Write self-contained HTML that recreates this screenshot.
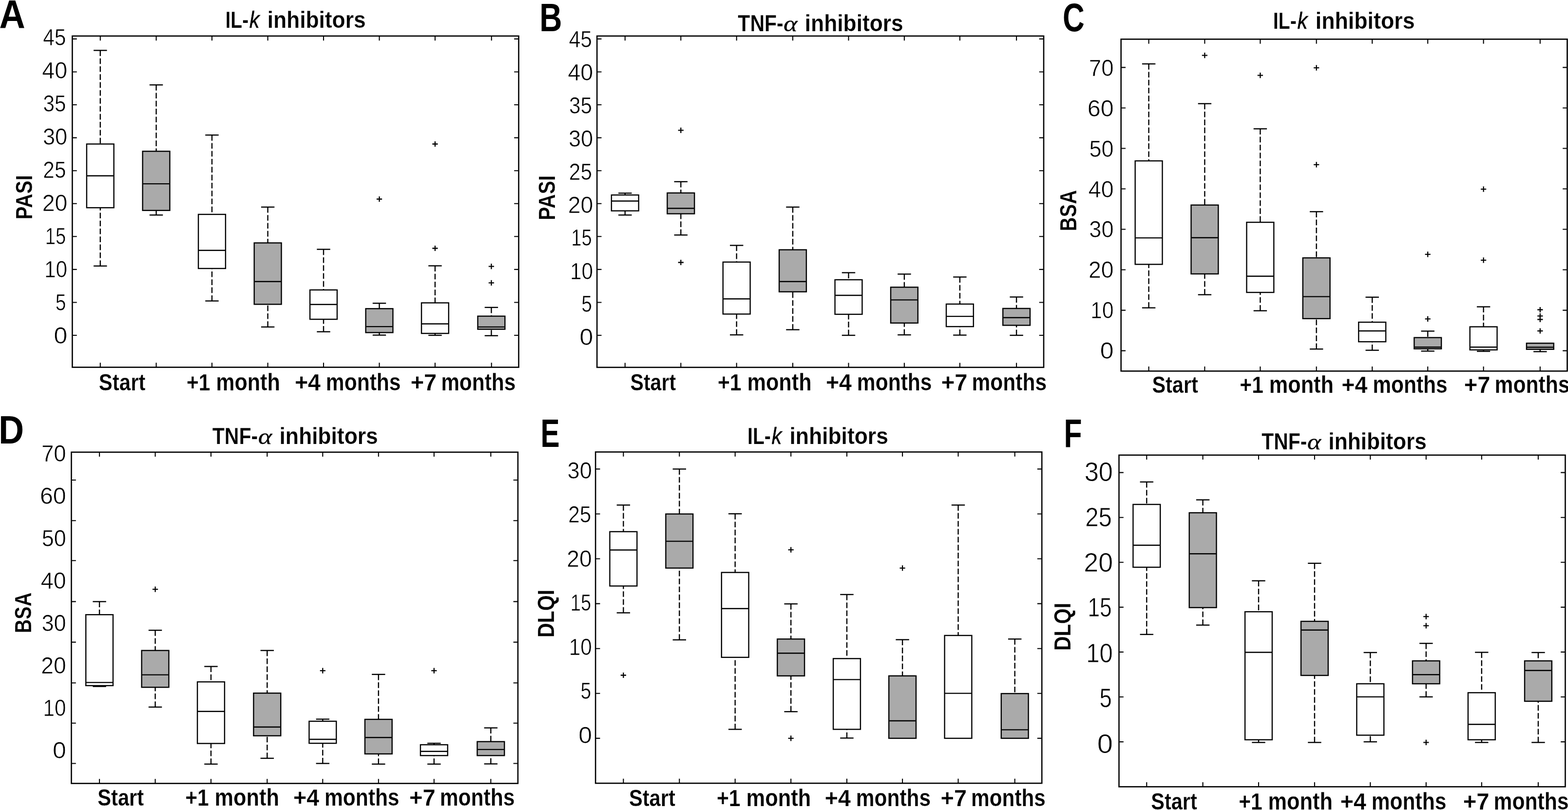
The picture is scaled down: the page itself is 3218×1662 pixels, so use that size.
<!DOCTYPE html>
<html lang="en">
<head>
<meta charset="utf-8">
<title>Box plots: PASI, BSA and DLQI for IL-k and TNF-α inhibitors</title>
<style>
html,body{margin:0;padding:0;background:#fff;}
body{width:3218px;height:1662px;overflow:hidden;}
svg{display:block;}
text{font-family:"Liberation Sans",sans-serif;fill:#000;}
.tk{font-size:47.9px;font-weight:400;stroke:#fff;stroke-width:0.65px;}
.lb{font-size:48.5px;font-weight:700;stroke:#fff;stroke-width:0.25px;}
.xl{font-size:49.8px;font-weight:700;stroke:#fff;stroke-width:0.25px;}
.xd{font-size:48px;font-weight:700;stroke:#fff;stroke-width:0.25px;}
.xs{font-size:49px;font-weight:700;stroke:#fff;stroke-width:0.25px;}
.lt{font-size:82.4px;font-weight:700;}
.k,.lbk{font-style:italic;font-weight:400;stroke:#000;stroke-width:0.5px;}
.lbk{font-size:48.5px;}
.al,.lba{font-family:"Liberation Serif","DejaVu Serif",serif;font-weight:400;font-style:italic;stroke:#000;stroke-width:0.3px;font-size:45.5px;}
.fr{fill:none;stroke:#000;stroke-width:2.6;}
.t{stroke:#000;stroke-width:2.1;fill:none;}
.bw{fill:#fff;stroke:#000;stroke-width:2.4;}
.bg{fill:#aaa;stroke:#000;stroke-width:2.4;}
.l{stroke:#000;stroke-width:2.4;fill:none;}
.d{stroke:#000;stroke-width:2.4;fill:none;stroke-dasharray:11.6 4.7;}
.o{stroke:#000;stroke-width:2.3;fill:none;}
</style>
</head>
<body>
<svg width="3218" height="1662" viewBox="0 0 3218 1662">
<rect x="0" y="0" width="3218" height="1662" fill="#fff"/>
<g id="panelA">
<path class="d" d="M205.8 103.4V295.5"/>
<path class="l" d="M192.1 103.4H219.5"/>
<path class="d" d="M205.8 545.8V426.2"/>
<path class="l" d="M192.1 545.8H219.5"/>
<rect class="bw" x="177.9" y="295.5" width="55.8" height="130.7"/>
<path class="l" d="M177.9 360.8H233.7"/>
<path class="d" d="M320.6 174.2V310.4"/>
<path class="l" d="M306.9 174.2H334.3"/>
<path class="d" d="M320.6 441.2V431.8"/>
<path class="l" d="M306.9 441.2H334.3"/>
<rect class="bg" x="292.7" y="310.4" width="55.8" height="121.4"/>
<path class="l" d="M292.7 377.1H348.5"/>
<path class="d" d="M435 277.1V439.9"/>
<path class="l" d="M421.3 277.1H448.7"/>
<path class="d" d="M435 617.5V550.9"/>
<path class="l" d="M421.3 617.5H448.7"/>
<rect class="bw" x="407.1" y="439.9" width="55.8" height="111"/>
<path class="l" d="M407.1 513.8H462.9"/>
<path class="d" d="M549.6 424.9V498.4"/>
<path class="l" d="M535.9 424.9H563.3"/>
<path class="d" d="M549.6 670.9V624.4"/>
<path class="l" d="M535.9 670.9H563.3"/>
<rect class="bg" x="521.7" y="498.4" width="55.8" height="126"/>
<path class="l" d="M521.7 577.8H577.5"/>
<path class="d" d="M664 511.6V594.9"/>
<path class="l" d="M650.3 511.6H677.7"/>
<path class="d" d="M664 680.7V655.1"/>
<path class="l" d="M650.3 680.7H677.7"/>
<rect class="bw" x="636.1" y="594.9" width="55.8" height="60.2"/>
<path class="l" d="M636.1 624.8H691.9"/>
<path class="d" d="M778.5 622.2V633.3"/>
<path class="l" d="M764.8 622.2H792.2"/>
<path class="d" d="M778.5 687.6V682.4"/>
<path class="l" d="M764.8 687.6H792.2"/>
<rect class="bg" x="750.6" y="633.3" width="55.8" height="49.1"/>
<path class="l" d="M750.6 670.1H806.4"/>
<path class="o" d="M772.9 408.5H784.1M778.5 402.9V414.1"/>
<path class="d" d="M892.9 545.4V621.4"/>
<path class="l" d="M879.2 545.4H906.6"/>
<path class="d" d="M892.9 688V684.1"/>
<path class="l" d="M879.2 688H906.6"/>
<rect class="bw" x="865" y="621.4" width="55.8" height="62.7"/>
<path class="l" d="M865 664.5H920.8"/>
<path class="o" d="M887.3 295.5H898.5M892.9 289.9V301.1"/>
<path class="o" d="M887.3 509.5H898.5M892.9 503.9V515.1"/>
<path class="d" d="M1008.4 630.8V648.7"/>
<path class="l" d="M994.7 630.8H1022.1"/>
<path class="d" d="M1008.4 688.8V675.6"/>
<path class="l" d="M994.7 688.8H1022.1"/>
<rect class="bg" x="980.5" y="648.7" width="55.8" height="26.9"/>
<path class="l" d="M980.5 670.9H1036.3"/>
<path class="o" d="M1002.8 546.6H1014M1008.4 541V552.2"/>
<path class="o" d="M1002.8 580.4H1014M1008.4 574.8V586"/>
<path class="t" d="M205.8 73.9V83.2M205.8 753.6V744.3M320.6 73.9V83.2M320.6 753.6V744.3M435 73.9V83.2M435 753.6V744.3M549.6 73.9V83.2M549.6 753.6V744.3M664 73.9V83.2M664 753.6V744.3M778.5 73.9V83.2M778.5 753.6V744.3M892.9 73.9V83.2M892.9 753.6V744.3M1008.7 73.9V83.2M1008.7 753.6V744.3M148.4 79.9H157.7M1064.5 79.9H1055.2M148.4 147.47H157.7M1064.5 147.47H1055.2M148.4 215.04H157.7M1064.5 215.04H1055.2M148.4 282.61H157.7M1064.5 282.61H1055.2M148.4 350.18H157.7M1064.5 350.18H1055.2M148.4 417.75H157.7M1064.5 417.75H1055.2M148.4 485.32H157.7M1064.5 485.32H1055.2M148.4 552.89H157.7M1064.5 552.89H1055.2M148.4 620.46H157.7M1064.5 620.46H1055.2M148.4 688.03H157.7M1064.5 688.03H1055.2"/>
<rect class="fr" x="148.4" y="73.9" width="916.1" height="679.7"/>
<text class="lt" transform="translate(-1.39,57.1) scale(0.8959,1.0000)">A</text>
<text class="lb" y="57.12" xml:space="preserve"><tspan x="462.48" textLength="47.74" lengthAdjust="spacingAndGlyphs">IL-</tspan><tspan class="k" x="511.87" textLength="20.79" lengthAdjust="spacingAndGlyphs">k</tspan><tspan x="536.37" textLength="214.21" lengthAdjust="spacingAndGlyphs"> inhibitors</tspan></text>
<text class="lb" transform="translate(66.32,450.62) rotate(-90) scale(0.8341,1.0000)">PASI</text>
<text class="xl" y="801.02" xml:space="preserve"><tspan class="xs" x="202.82" textLength="95.63" lengthAdjust="spacingAndGlyphs">Start</tspan></text>
<text class="xl" y="801.02" xml:space="preserve"><tspan class="xd" x="383.01" textLength="48.3" lengthAdjust="spacingAndGlyphs">+1</tspan><tspan x="431.17" textLength="143.6" lengthAdjust="spacingAndGlyphs"> month</tspan></text>
<text class="xl" y="801.02" xml:space="preserve"><tspan class="xd" x="604.92" textLength="53.05" lengthAdjust="spacingAndGlyphs">+4</tspan><tspan x="657.06" textLength="165.48" lengthAdjust="spacingAndGlyphs"> months</tspan></text>
<text class="xl" y="801.02" xml:space="preserve"><tspan class="xd" x="842.7" textLength="53.48" lengthAdjust="spacingAndGlyphs">+7</tspan><tspan x="893.42" textLength="164.82" lengthAdjust="spacingAndGlyphs"> months</tspan></text>
<text class="tk" transform="translate(88.17,93.25) scale(0.8889,1.0000)">45</text>
<text class="tk" transform="translate(86.34,161.41) scale(0.9737,1.0000)">40</text>
<text class="tk" transform="translate(88.52,229.32) scale(0.8821,1.0000)">35</text>
<text class="tk" transform="translate(87.88,297.23) scale(0.9436,1.0000)">30</text>
<text class="tk" transform="translate(88.37,365.14) scale(0.8850,1.0000)">25</text>
<text class="tk" transform="translate(86.64,433.05) scale(0.9679,1.0000)">20</text>
<text class="tk" transform="translate(92.81,500.71) scale(0.7979,1.0000)">15</text>
<text class="tk" transform="translate(90.97,568.87) scale(0.8830,1.0000)">10</text>
<text class="tk" transform="translate(113.65,636.53) scale(0.8184,1.0000)">5</text>
<text class="tk" transform="translate(110.45,704.69) scale(1.0427,1.0000)">0</text>
</g>
<g id="panelB">
<path class="d" d="M1282.8 396.3V400.1"/>
<path class="l" d="M1269.1 396.3H1296.5"/>
<path class="d" d="M1282.8 441.2V432.6"/>
<path class="l" d="M1269.1 441.2H1296.5"/>
<rect class="bw" x="1254.9" y="400.1" width="55.8" height="32.5"/>
<path class="l" d="M1254.9 412.5H1310.7"/>
<path class="d" d="M1397.3 372.8V395.9"/>
<path class="l" d="M1383.6 372.8H1411"/>
<path class="d" d="M1397.3 482.2V438.6"/>
<path class="l" d="M1383.6 482.2H1411"/>
<rect class="bg" x="1369.4" y="395.9" width="55.8" height="42.7"/>
<path class="l" d="M1369.4 427.5H1425.2"/>
<path class="o" d="M1391.7 267.3H1402.9M1397.3 261.7V272.9"/>
<path class="o" d="M1391.7 538.5H1402.9M1397.3 532.9V544.1"/>
<path class="d" d="M1511.7 503.5V537.7"/>
<path class="l" d="M1498 503.5H1525.4"/>
<path class="d" d="M1511.7 687.1V644.4"/>
<path class="l" d="M1498 687.1H1525.4"/>
<rect class="bw" x="1483.8" y="537.7" width="55.8" height="106.7"/>
<path class="l" d="M1483.8 613.3H1539.6"/>
<path class="d" d="M1627 424.9V512.5"/>
<path class="l" d="M1613.3 424.9H1640.7"/>
<path class="d" d="M1627 676.5V598.7"/>
<path class="l" d="M1613.3 676.5H1640.7"/>
<rect class="bg" x="1599.1" y="512.5" width="55.8" height="86.2"/>
<path class="l" d="M1599.1 577.8H1654.9"/>
<path class="d" d="M1741.5 559.5V574"/>
<path class="l" d="M1727.8 559.5H1755.2"/>
<path class="d" d="M1741.5 688V644.9"/>
<path class="l" d="M1727.8 688H1755.2"/>
<rect class="bw" x="1713.6" y="574" width="55.8" height="70.9"/>
<path class="l" d="M1713.6 606H1769.4"/>
<path class="d" d="M1855.9 562.4V589.3"/>
<path class="l" d="M1842.2 562.4H1869.6"/>
<path class="d" d="M1855.9 687.1V662.8"/>
<path class="l" d="M1842.2 687.1H1869.6"/>
<rect class="bg" x="1828" y="589.3" width="55.8" height="73.5"/>
<path class="l" d="M1828 615.4H1883.8"/>
<path class="d" d="M1969.9 568.4V623.9"/>
<path class="l" d="M1956.2 568.4H1983.6"/>
<path class="d" d="M1969.9 687.6V670.1"/>
<path class="l" d="M1956.2 687.6H1983.6"/>
<rect class="bw" x="1942" y="623.9" width="55.8" height="46.2"/>
<path class="l" d="M1942 649.1H1997.8"/>
<path class="d" d="M2086.1 609.4V632.9"/>
<path class="l" d="M2072.4 609.4H2099.8"/>
<path class="d" d="M2086.1 688V667.5"/>
<path class="l" d="M2072.4 688H2099.8"/>
<rect class="bg" x="2058.2" y="632.9" width="55.8" height="34.6"/>
<path class="l" d="M2058.2 651.7H2114"/>
<path class="t" d="M1282.8 73.9V83.2M1282.8 753.8V744.5M1397.3 73.9V83.2M1397.3 753.8V744.5M1511.7 73.9V83.2M1511.7 753.8V744.5M1627 73.9V83.2M1627 753.8V744.5M1741.5 73.9V83.2M1741.5 753.8V744.5M1855.9 73.9V83.2M1855.9 753.8V744.5M1969.9 73.9V83.2M1969.9 753.8V744.5M2086.1 73.9V83.2M2086.1 753.8V744.5M1225.2 79.9H1234.5M2142 79.9H2132.7M1225.2 147.47H1234.5M2142 147.47H2132.7M1225.2 215.04H1234.5M2142 215.04H2132.7M1225.2 282.61H1234.5M2142 282.61H2132.7M1225.2 350.18H1234.5M2142 350.18H2132.7M1225.2 417.75H1234.5M2142 417.75H2132.7M1225.2 485.32H1234.5M2142 485.32H2132.7M1225.2 552.89H1234.5M2142 552.89H2132.7M1225.2 620.46H1234.5M2142 620.46H2132.7M1225.2 688.03H1234.5M2142 688.03H2132.7"/>
<rect class="fr" x="1225.2" y="73.9" width="916.8" height="679.9"/>
<text class="lt" transform="translate(1107.23,63.9) scale(0.7761,1.0000)">B</text>
<text class="lb" y="63.82" xml:space="preserve"><tspan x="1514.37" textLength="93.28" lengthAdjust="spacingAndGlyphs">TNF-</tspan><tspan class="al" x="1608.11" textLength="28.47" lengthAdjust="spacingAndGlyphs">α</tspan><tspan x="1639.46" textLength="214.31" lengthAdjust="spacingAndGlyphs"> inhibitors</tspan></text>
<text class="lb" transform="translate(1138.52,451.84) rotate(-90) scale(0.8409,1.0000)">PASI</text>
<text class="xl" y="801.02" xml:space="preserve"><tspan class="xs" x="1293.54" textLength="93.59" lengthAdjust="spacingAndGlyphs">Start</tspan></text>
<text class="xl" y="801.02" xml:space="preserve"><tspan class="xd" x="1473.01" textLength="48.53" lengthAdjust="spacingAndGlyphs">+1</tspan><tspan x="1521.4" textLength="144.29" lengthAdjust="spacingAndGlyphs"> month</tspan></text>
<text class="xl" y="801.02" xml:space="preserve"><tspan class="xd" x="1694.92" textLength="53.03" lengthAdjust="spacingAndGlyphs">+4</tspan><tspan x="1747.04" textLength="165.41" lengthAdjust="spacingAndGlyphs"> months</tspan></text>
<text class="xl" y="801.02" xml:space="preserve"><tspan class="xd" x="1931.79" textLength="53.68" lengthAdjust="spacingAndGlyphs">+7</tspan><tspan x="1982.7" textLength="165.44" lengthAdjust="spacingAndGlyphs"> months</tspan></text>
<text class="tk" transform="translate(1167.67,96.95) scale(0.8889,1.0000)">45</text>
<text class="tk" transform="translate(1165.44,165.12) scale(0.9737,1.0000)">40</text>
<text class="tk" transform="translate(1168.02,233.04) scale(0.8821,1.0000)">35</text>
<text class="tk" transform="translate(1166.98,300.96) scale(0.9436,1.0000)">30</text>
<text class="tk" transform="translate(1167.87,368.88) scale(0.8850,1.0000)">25</text>
<text class="tk" transform="translate(1165.74,436.8) scale(0.9679,1.0000)">20</text>
<text class="tk" transform="translate(1172.31,504.47) scale(0.7979,1.0000)">15</text>
<text class="tk" transform="translate(1170.07,572.64) scale(0.8830,1.0000)">10</text>
<text class="tk" transform="translate(1193.15,640.31) scale(0.8184,1.0000)">5</text>
<text class="tk" transform="translate(1189.55,708.48) scale(1.0427,1.0000)">0</text>
</g>
<g id="panelC">
<path class="d" d="M2357.6 131.1V330.1"/>
<path class="l" d="M2343.9 131.1H2371.3"/>
<path class="d" d="M2357.6 631.6V542.4"/>
<path class="l" d="M2343.9 631.6H2371.3"/>
<rect class="bw" x="2329.7" y="330.1" width="55.8" height="212.3"/>
<path class="l" d="M2329.7 488.1H2385.5"/>
<path class="d" d="M2472.4 212.7V420.7"/>
<path class="l" d="M2458.7 212.7H2486.1"/>
<path class="d" d="M2472.4 604.7V562"/>
<path class="l" d="M2458.7 604.7H2486.1"/>
<rect class="bg" x="2444.5" y="420.7" width="55.8" height="141.3"/>
<path class="l" d="M2444.5 487.7H2500.3"/>
<path class="o" d="M2466.8 113.6H2478M2472.4 108V119.2"/>
<path class="d" d="M2586.4 264.3V456.1"/>
<path class="l" d="M2572.7 264.3H2600.1"/>
<path class="d" d="M2586.4 637.6V600"/>
<path class="l" d="M2572.7 637.6H2600.1"/>
<rect class="bw" x="2558.5" y="456.1" width="55.8" height="143.9"/>
<path class="l" d="M2558.5 566.7H2614.3"/>
<path class="o" d="M2580.8 154.6H2592M2586.4 149V160.2"/>
<path class="d" d="M2701.7 434.3V529.1"/>
<path class="l" d="M2688 434.3H2715.4"/>
<path class="d" d="M2701.7 716.2V653.8"/>
<path class="l" d="M2688 716.2H2715.4"/>
<rect class="bg" x="2673.8" y="529.1" width="55.8" height="124.7"/>
<path class="l" d="M2673.8 608.6H2729.6"/>
<path class="o" d="M2696.1 139.2H2707.3M2701.7 133.6V144.8"/>
<path class="o" d="M2696.1 337.8H2707.3M2701.7 332.2V343.4"/>
<path class="d" d="M2816.2 609.8V661.1"/>
<path class="l" d="M2802.5 609.8H2829.9"/>
<path class="d" d="M2816.2 718.7V701.2"/>
<path class="l" d="M2802.5 718.7H2829.9"/>
<rect class="bw" x="2788.3" y="661.1" width="55.8" height="40.1"/>
<path class="l" d="M2788.3 679H2844.1"/>
<path class="d" d="M2930.2 679.4V692.7"/>
<path class="l" d="M2916.5 679.4H2943.9"/>
<path class="d" d="M2930.2 720.4V715.7"/>
<path class="l" d="M2916.5 720.4H2943.9"/>
<rect class="bg" x="2902.3" y="692.7" width="55.8" height="23"/>
<path class="l" d="M2902.3 712.3H2958.1"/>
<path class="o" d="M2924.6 521.9H2935.8M2930.2 516.3V527.5"/>
<path class="o" d="M2924.6 654.3H2935.8M2930.2 648.7V659.9"/>
<path class="d" d="M3044.6 629.5V670.5"/>
<path class="l" d="M3030.9 629.5H3058.3"/>
<path class="d" d="M3044.6 720.9V717.9"/>
<path class="l" d="M3030.9 720.9H3058.3"/>
<rect class="bw" x="3016.7" y="670.5" width="55.8" height="47.4"/>
<path class="l" d="M3016.7 712.3H3072.5"/>
<path class="o" d="M3039 388.2H3050.2M3044.6 382.6V393.8"/>
<path class="o" d="M3039 533.8H3050.2M3044.6 528.2V539.4"/>
<path class="d" d="M3160.8 721.5V716.8"/>
<path class="l" d="M3147.1 721.5H3174.5"/>
<rect class="bg" x="3132.9" y="704.2" width="55.8" height="12.6"/>
<path class="l" d="M3132.9 712.5H3188.7"/>
<path class="o" d="M3155.2 635.5H3166.4M3160.8 629.9V641.1"/>
<path class="o" d="M3155.2 648.3H3166.4M3160.8 642.7V653.9"/>
<path class="o" d="M3155.2 655.5H3166.4M3160.8 649.9V661.1"/>
<path class="o" d="M3155.2 679H3166.4M3160.8 673.4V684.6"/>
<path class="t" d="M2357.6 80.4V89.7M2357.6 761.4V752.1M2472.4 80.4V89.7M2472.4 761.4V752.1M2586.4 80.4V89.7M2586.4 761.4V752.1M2701.7 80.4V89.7M2701.7 761.4V752.1M2816.2 80.4V89.7M2816.2 761.4V752.1M2930.2 80.4V89.7M2930.2 761.4V752.1M3044.6 80.4V89.7M3044.6 761.4V752.1M3160.8 80.4V89.7M3160.8 761.4V752.1M2300.7 138.4H2310M3216.4 138.4H3207.1M2300.7 221.43H2310M3216.4 221.43H3207.1M2300.7 304.46H2310M3216.4 304.46H3207.1M2300.7 387.49H2310M3216.4 387.49H3207.1M2300.7 470.52H2310M3216.4 470.52H3207.1M2300.7 553.55H2310M3216.4 553.55H3207.1M2300.7 636.58H2310M3216.4 636.58H3207.1M2300.7 719.61H2310M3216.4 719.61H3207.1"/>
<rect class="fr" x="2300.7" y="80.4" width="915.7" height="681"/>
<text class="lt" transform="translate(2181.07,63.9) scale(0.7516,1.0000)">C</text>
<text class="lb" y="59.02" xml:space="preserve"><tspan x="2612.65" textLength="48.22" lengthAdjust="spacingAndGlyphs">IL-</tspan><tspan class="k" x="2662.53" textLength="20.99" lengthAdjust="spacingAndGlyphs">k</tspan><tspan x="2687.27" textLength="216.32" lengthAdjust="spacingAndGlyphs"> inhibitors</tspan></text>
<text class="lb" transform="translate(2208.82,474.39) rotate(-90) scale(0.8247,1.0000)">BSA</text>
<text class="xl" y="805.62" xml:space="preserve"><tspan class="xs" x="2364.43" textLength="94.41" lengthAdjust="spacingAndGlyphs">Start</tspan></text>
<text class="xl" y="805.62" xml:space="preserve"><tspan class="xd" x="2544.31" textLength="48.53" lengthAdjust="spacingAndGlyphs">+1</tspan><tspan x="2592.7" textLength="144.29" lengthAdjust="spacingAndGlyphs"> month</tspan></text>
<text class="xl" y="805.62" xml:space="preserve"><tspan class="xd" x="2753.32" textLength="53" lengthAdjust="spacingAndGlyphs">+4</tspan><tspan x="2805.41" textLength="165.33" lengthAdjust="spacingAndGlyphs"> months</tspan></text>
<text class="xl" y="805.62" xml:space="preserve"><tspan class="xd" x="3004.79" textLength="53.73" lengthAdjust="spacingAndGlyphs">+7</tspan><tspan x="3055.75" textLength="165.6" lengthAdjust="spacingAndGlyphs"> months</tspan></text>
<text class="tk" transform="translate(2234.78,156.2) scale(0.9534,1.0000)">70</text>
<text class="tk" transform="translate(2231.82,239) scale(1.0114,1.0000)">60</text>
<text class="tk" transform="translate(2235.55,321.8) scale(0.9381,1.0000)">50</text>
<text class="tk" transform="translate(2233.74,404.6) scale(0.9737,1.0000)">40</text>
<text class="tk" transform="translate(2235.28,487.4) scale(0.9436,1.0000)">30</text>
<text class="tk" transform="translate(2234.04,570.2) scale(0.9679,1.0000)">20</text>
<text class="tk" transform="translate(2238.37,653) scale(0.8830,1.0000)">10</text>
<text class="tk" transform="translate(2257.85,735.8) scale(1.0427,1.0000)">0</text>
</g>
<g id="panelD">
<path class="d" d="M204.1 1234.4V1261.2"/>
<path class="l" d="M190.4 1234.4H217.8"/>
<path class="d" d="M204.1 1408.5V1406.8"/>
<path class="l" d="M190.4 1408.5H217.8"/>
<rect class="bw" x="176.2" y="1261.2" width="55.8" height="145.6"/>
<path class="l" d="M176.2 1400.4H232"/>
<path class="d" d="M318.6 1293.2V1334.7"/>
<path class="l" d="M304.9 1293.2H332.3"/>
<path class="d" d="M318.6 1450.8V1410.2"/>
<path class="l" d="M304.9 1450.8H332.3"/>
<rect class="bg" x="290.7" y="1334.7" width="55.8" height="75.5"/>
<path class="l" d="M290.7 1384.6H346.5"/>
<path class="o" d="M313 1209.2H324.2M318.6 1203.6V1214.8"/>
<path class="d" d="M433 1367.5V1399.1"/>
<path class="l" d="M419.3 1367.5H446.7"/>
<path class="d" d="M433 1567.8V1525.5"/>
<path class="l" d="M419.3 1567.8H446.7"/>
<rect class="bw" x="405.1" y="1399.1" width="55.8" height="126.4"/>
<path class="l" d="M405.1 1459.8H460.9"/>
<path class="d" d="M548.3 1334.7V1422.2"/>
<path class="l" d="M534.6 1334.7H562"/>
<path class="d" d="M548.3 1555.9V1509.7"/>
<path class="l" d="M534.6 1555.9H562"/>
<rect class="bg" x="520.4" y="1422.2" width="55.8" height="87.5"/>
<path class="l" d="M520.4 1491.8H576.2"/>
<path class="d" d="M662.3 1475.6V1479.9"/>
<path class="l" d="M648.6 1475.6H676"/>
<path class="d" d="M662.3 1566.5V1525.1"/>
<path class="l" d="M648.6 1566.5H676"/>
<rect class="bw" x="634.4" y="1479.9" width="55.8" height="45.2"/>
<path class="l" d="M634.4 1517H690.2"/>
<path class="o" d="M656.7 1376.1H667.9M662.3 1370.5V1381.7"/>
<path class="d" d="M776.8 1383.8V1476"/>
<path class="l" d="M763.1 1383.8H790.5"/>
<path class="d" d="M776.8 1567.8V1546.9"/>
<path class="l" d="M763.1 1567.8H790.5"/>
<rect class="bg" x="748.9" y="1476" width="55.8" height="70.9"/>
<path class="l" d="M748.9 1513.2H804.7"/>
<path class="d" d="M890.8 1525.1V1528.1"/>
<path class="l" d="M877.1 1525.1H904.5"/>
<path class="d" d="M890.8 1567.8V1550.3"/>
<path class="l" d="M877.1 1567.8H904.5"/>
<rect class="bw" x="862.9" y="1528.1" width="55.8" height="22.2"/>
<path class="l" d="M862.9 1541.8H918.7"/>
<path class="o" d="M885.2 1376.1H896.4M890.8 1370.5V1381.7"/>
<path class="d" d="M1007.3 1493.5V1521.7"/>
<path class="l" d="M993.6 1493.5H1021"/>
<path class="d" d="M1007.3 1567.4V1550.3"/>
<path class="l" d="M993.6 1567.4H1021"/>
<rect class="bg" x="979.4" y="1521.7" width="55.8" height="28.6"/>
<path class="l" d="M979.4 1537.9H1035.2"/>
<path class="t" d="M204.1 927.8V937.1M204.1 1607.5V1598.2M318.6 927.8V937.1M318.6 1607.5V1598.2M433 927.8V937.1M433 1607.5V1598.2M548.3 927.8V937.1M548.3 1607.5V1598.2M662.3 927.8V937.1M662.3 1607.5V1598.2M776.8 927.8V937.1M776.8 1607.5V1598.2M890.8 927.8V937.1M890.8 1607.5V1598.2M1007.3 927.8V937.1M1007.3 1607.5V1598.2M146.5 985H155.8M1062.9 985H1053.6M146.5 1068.3H155.8M1062.9 1068.3H1053.6M146.5 1150.3H155.8M1062.9 1150.3H1053.6M146.5 1234.4H155.8M1062.9 1234.4H1053.6M146.5 1317.6H155.8M1062.9 1317.6H1053.6M146.5 1401.3H155.8M1062.9 1401.3H1053.6M146.5 1483.7H155.8M1062.9 1483.7H1053.6M146.5 1566.5H155.8M1062.9 1566.5H1053.6"/>
<rect class="fr" x="146.5" y="927.8" width="916.4" height="679.7"/>
<text class="lt" transform="translate(-2.69,909.9) scale(0.8713,1.0000)">D</text>
<text class="lb" y="911.22" xml:space="preserve"><tspan x="435.77" textLength="93.45" lengthAdjust="spacingAndGlyphs">TNF-</tspan><tspan class="al" x="529.68" textLength="28.52" lengthAdjust="spacingAndGlyphs">α</tspan><tspan x="561.08" textLength="214.7" lengthAdjust="spacingAndGlyphs"> inhibitors</tspan></text>
<text class="lb" transform="translate(64.12,1299.36) rotate(-90) scale(0.8165,1.0000)">BSA</text>
<text class="xl" y="1652.92" xml:space="preserve"><tspan class="xs" x="200.33" textLength="94.82" lengthAdjust="spacingAndGlyphs">Start</tspan></text>
<text class="xl" y="1652.92" xml:space="preserve"><tspan class="xd" x="380.21" textLength="48.53" lengthAdjust="spacingAndGlyphs">+1</tspan><tspan x="428.6" textLength="144.29" lengthAdjust="spacingAndGlyphs"> month</tspan></text>
<text class="xl" y="1652.92" xml:space="preserve"><tspan class="xd" x="602.02" textLength="53.03" lengthAdjust="spacingAndGlyphs">+4</tspan><tspan x="654.14" textLength="165.41" lengthAdjust="spacingAndGlyphs"> months</tspan></text>
<text class="xl" y="1652.92" xml:space="preserve"><tspan class="xd" x="839.89" textLength="53.76" lengthAdjust="spacingAndGlyphs">+7</tspan><tspan x="890.87" textLength="165.67" lengthAdjust="spacingAndGlyphs"> months</tspan></text>
<text class="tk" transform="translate(84.88,947.1) scale(0.9534,1.0000)">70</text>
<text class="tk" transform="translate(81.92,1034.13) scale(1.0114,1.0000)">60</text>
<text class="tk" transform="translate(85.65,1121.16) scale(0.9381,1.0000)">50</text>
<text class="tk" transform="translate(83.84,1208.19) scale(0.9737,1.0000)">40</text>
<text class="tk" transform="translate(85.38,1295.22) scale(0.9436,1.0000)">30</text>
<text class="tk" transform="translate(84.14,1382.25) scale(0.9679,1.0000)">20</text>
<text class="tk" transform="translate(88.47,1469.28) scale(0.8830,1.0000)">10</text>
<text class="tk" transform="translate(107.95,1556.31) scale(1.0427,1.0000)">0</text>
</g>
<g id="panelE">
<path class="d" d="M1279.4 1036.3V1090.9"/>
<path class="l" d="M1265.7 1036.3H1293.1"/>
<path class="d" d="M1279.4 1257.4V1202.4"/>
<path class="l" d="M1265.7 1257.4H1293.1"/>
<rect class="bw" x="1251.5" y="1090.9" width="55.8" height="111.5"/>
<path class="l" d="M1251.5 1128.5H1307.3"/>
<path class="o" d="M1273.8 1385.5H1285M1279.4 1379.9V1391.1"/>
<path class="d" d="M1394.3 962.4V1054.6"/>
<path class="l" d="M1380.6 962.4H1408"/>
<path class="d" d="M1394.3 1312.9V1165.6"/>
<path class="l" d="M1380.6 1312.9H1408"/>
<rect class="bg" x="1366.4" y="1054.6" width="55.8" height="111"/>
<path class="l" d="M1366.4 1110.6H1422.2"/>
<path class="d" d="M1508.7 1054.2V1174.6"/>
<path class="l" d="M1495 1054.2H1522.4"/>
<path class="d" d="M1508.7 1496.5V1348.8"/>
<path class="l" d="M1495 1496.5H1522.4"/>
<rect class="bw" x="1480.8" y="1174.6" width="55.8" height="174.2"/>
<path class="l" d="M1480.8 1248.8H1536.6"/>
<path class="d" d="M1623.2 1239.1V1311.2"/>
<path class="l" d="M1609.5 1239.1H1636.9"/>
<path class="d" d="M1623.2 1460.2V1386.8"/>
<path class="l" d="M1609.5 1460.2H1636.9"/>
<rect class="bg" x="1595.3" y="1311.2" width="55.8" height="75.6"/>
<path class="l" d="M1595.3 1340.2H1651.1"/>
<path class="o" d="M1617.6 1128.1H1628.8M1623.2 1122.5V1133.7"/>
<path class="o" d="M1617.6 1514.9H1628.8M1623.2 1509.3V1520.5"/>
<path class="d" d="M1738 1219.9V1351.3"/>
<path class="l" d="M1724.3 1219.9H1751.7"/>
<path class="d" d="M1738 1514.4V1496.5"/>
<path class="l" d="M1724.3 1514.4H1751.7"/>
<rect class="bw" x="1710.1" y="1351.3" width="55.8" height="145.2"/>
<path class="l" d="M1710.1 1394.4H1765.9"/>
<path class="d" d="M1852.1 1312.5V1386.8"/>
<path class="l" d="M1838.4 1312.5H1865.8"/>
<rect class="bg" x="1824.2" y="1386.8" width="55.8" height="128.1"/>
<path class="l" d="M1824.2 1479H1880"/>
<path class="o" d="M1846.5 1165.6H1857.7M1852.1 1160V1171.2"/>
<path class="d" d="M1966.5 1036.3V1303.9"/>
<path class="l" d="M1952.8 1036.3H1980.2"/>
<rect class="bw" x="1938.6" y="1303.9" width="55.8" height="211"/>
<path class="l" d="M1938.6 1422.6H1994.4"/>
<path class="d" d="M2082.7 1311.2V1423.1"/>
<path class="l" d="M2069 1311.2H2096.4"/>
<rect class="bg" x="2054.8" y="1423.1" width="55.8" height="91.8"/>
<path class="l" d="M2054.8 1497.4H2110.6"/>
<path class="t" d="M1279.4 927.4V936.7M1279.4 1607.1V1597.8M1394.3 927.4V936.7M1394.3 1607.1V1597.8M1508.7 927.4V936.7M1508.7 1607.1V1597.8M1623.2 927.4V936.7M1623.2 1607.1V1597.8M1738 927.4V936.7M1738 1607.1V1597.8M1852.1 927.4V936.7M1852.1 1607.1V1597.8M1966.5 927.4V936.7M1966.5 1607.1V1597.8M2082.7 927.4V936.7M2082.7 1607.1V1597.8M1222.2 962.4H1231.5M2138.2 962.4H2128.9M1222.2 1054.48H1231.5M2138.2 1054.48H2128.9M1222.2 1146.56H1231.5M2138.2 1146.56H2128.9M1222.2 1238.64H1231.5M2138.2 1238.64H2128.9M1222.2 1330.72H1231.5M2138.2 1330.72H2128.9M1222.2 1422.8H1231.5M2138.2 1422.8H2128.9M1222.2 1514.88H1231.5M2138.2 1514.88H2128.9"/>
<rect class="fr" x="1222.2" y="927.4" width="916" height="679.7"/>
<text class="lt" transform="translate(1109.39,916.7) scale(0.7114,1.0000)">E</text>
<text class="lb" y="911.22" xml:space="preserve"><tspan x="1534.07" textLength="47.86" lengthAdjust="spacingAndGlyphs">IL-</tspan><tspan class="k" x="1583.59" textLength="20.84" lengthAdjust="spacingAndGlyphs">k</tspan><tspan x="1608.14" textLength="214.73" lengthAdjust="spacingAndGlyphs"> inhibitors</tspan></text>
<text class="lb" transform="translate(1137.22,1308.07) rotate(-90) scale(0.8486,1.0000)">DLQI</text>
<text class="xl" y="1654.32" xml:space="preserve"><tspan class="xs" x="1290.92" textLength="94.92" lengthAdjust="spacingAndGlyphs">Start</tspan></text>
<text class="xl" y="1654.32" xml:space="preserve"><tspan class="xd" x="1470.9" textLength="48.73" lengthAdjust="spacingAndGlyphs">+1</tspan><tspan x="1519.49" textLength="144.9" lengthAdjust="spacingAndGlyphs"> month</tspan></text>
<text class="xl" y="1654.32" xml:space="preserve"><tspan class="xd" x="1692.72" textLength="53.03" lengthAdjust="spacingAndGlyphs">+4</tspan><tspan x="1744.84" textLength="165.41" lengthAdjust="spacingAndGlyphs"> months</tspan></text>
<text class="xl" y="1654.32" xml:space="preserve"><tspan class="xd" x="1930.6" textLength="53.43" lengthAdjust="spacingAndGlyphs">+7</tspan><tspan x="1981.27" textLength="164.66" lengthAdjust="spacingAndGlyphs"> months</tspan></text>
<text class="tk" transform="translate(1164.58,981.8) scale(0.9436,1.0000)">30</text>
<text class="tk" transform="translate(1166.27,1072.3) scale(0.8850,1.0000)">25</text>
<text class="tk" transform="translate(1163.34,1162.8) scale(0.9679,1.0000)">20</text>
<text class="tk" transform="translate(1170.71,1253.05) scale(0.7979,1.0000)">15</text>
<text class="tk" transform="translate(1167.67,1343.8) scale(0.8830,1.0000)">10</text>
<text class="tk" transform="translate(1191.55,1434.05) scale(0.8184,1.0000)">5</text>
<text class="tk" transform="translate(1187.15,1524.8) scale(1.0427,1.0000)">0</text>
</g>
<g id="panelF">
<path class="d" d="M2353.3 988.9V1035"/>
<path class="l" d="M2339.6 988.9H2367"/>
<path class="d" d="M2353.3 1301.8V1163.9"/>
<path class="l" d="M2339.6 1301.8H2367"/>
<rect class="bw" x="2325.4" y="1035" width="55.8" height="128.9"/>
<path class="l" d="M2325.4 1118.7H2381.2"/>
<path class="d" d="M2468.6 1025.6V1052.1"/>
<path class="l" d="M2454.9 1025.6H2482.3"/>
<path class="d" d="M2468.6 1282.6V1246.7"/>
<path class="l" d="M2454.9 1282.6H2482.3"/>
<rect class="bg" x="2440.7" y="1052.1" width="55.8" height="194.6"/>
<path class="l" d="M2440.7 1136.2H2496.5"/>
<path class="d" d="M2583 1191.7V1255.2"/>
<path class="l" d="M2569.3 1191.7H2596.7"/>
<path class="d" d="M2583 1523.4V1517.9"/>
<path class="l" d="M2569.3 1523.4H2596.7"/>
<rect class="bw" x="2555.1" y="1255.2" width="55.8" height="262.7"/>
<path class="l" d="M2555.1 1338.5H2610.9"/>
<path class="d" d="M2697.9 1155.8V1274.9"/>
<path class="l" d="M2684.2 1155.8H2711.6"/>
<path class="d" d="M2697.9 1523.4V1385.9"/>
<path class="l" d="M2684.2 1523.4H2711.6"/>
<rect class="bg" x="2670" y="1274.9" width="55.8" height="111"/>
<path class="l" d="M2670 1292.8H2725.8"/>
<path class="d" d="M2812.3 1338.9V1403"/>
<path class="l" d="M2798.6 1338.9H2826"/>
<path class="d" d="M2812.3 1522.1V1508.5"/>
<path class="l" d="M2798.6 1522.1H2826"/>
<rect class="bw" x="2784.4" y="1403" width="55.8" height="105.5"/>
<path class="l" d="M2784.4 1429.9H2840.2"/>
<path class="d" d="M2926.8 1320.1V1356"/>
<path class="l" d="M2913.1 1320.1H2940.5"/>
<path class="d" d="M2926.8 1429.9V1403"/>
<path class="l" d="M2913.1 1429.9H2940.5"/>
<rect class="bg" x="2898.9" y="1356" width="55.8" height="47"/>
<path class="l" d="M2898.9 1384.2H2954.7"/>
<path class="o" d="M2921.2 1265.1H2932.4M2926.8 1259.5V1270.7"/>
<path class="o" d="M2921.2 1283.8H2932.4M2926.8 1278.2V1289.4"/>
<path class="o" d="M2921.2 1523.4H2932.4M2926.8 1517.8V1529"/>
<path class="d" d="M3040.8 1338.5V1421.3"/>
<path class="l" d="M3027.1 1338.5H3054.5"/>
<path class="d" d="M3040.8 1523.4V1517.9"/>
<path class="l" d="M3027.1 1523.4H3054.5"/>
<rect class="bw" x="3012.9" y="1421.3" width="55.8" height="96.6"/>
<path class="l" d="M3012.9 1486.3H3068.7"/>
<path class="d" d="M3156.9 1338.9V1356"/>
<path class="l" d="M3143.2 1338.9H3170.6"/>
<path class="d" d="M3156.9 1523.4V1438.9"/>
<path class="l" d="M3143.2 1523.4H3170.6"/>
<rect class="bg" x="3129" y="1356" width="55.8" height="82.9"/>
<path class="l" d="M3129 1375.7H3184.8"/>
<path class="t" d="M2353.3 933.8V943.1M2353.3 1614.3V1605M2468.6 933.8V943.1M2468.6 1614.3V1605M2583 933.8V943.1M2583 1614.3V1605M2697.9 933.8V943.1M2697.9 1614.3V1605M2812.3 933.8V943.1M2812.3 1614.3V1605M2926.8 933.8V943.1M2926.8 1614.3V1605M3040.8 933.8V943.1M3040.8 1614.3V1605M3156.9 933.8V943.1M3156.9 1614.3V1605M2296.5 969.6H2305.8M3212.4 969.6H3203.1M2296.5 1061.68H2305.8M3212.4 1061.68H3203.1M2296.5 1153.76H2305.8M3212.4 1153.76H3203.1M2296.5 1245.84H2305.8M3212.4 1245.84H3203.1M2296.5 1337.92H2305.8M3212.4 1337.92H3203.1M2296.5 1430H2305.8M3212.4 1430H3203.1M2296.5 1522.08H2305.8M3212.4 1522.08H3203.1"/>
<rect class="fr" x="2296.5" y="933.8" width="915.9" height="680.5"/>
<text class="lt" transform="translate(2183.56,917.5) scale(0.7353,1.0000)">F</text>
<text class="lb" y="921.92" xml:space="preserve"><tspan x="2589.27" textLength="93.06" lengthAdjust="spacingAndGlyphs">TNF-</tspan><tspan class="al" x="2682.79" textLength="28.4" lengthAdjust="spacingAndGlyphs">α</tspan><tspan x="2714.06" textLength="213.81" lengthAdjust="spacingAndGlyphs"> inhibitors</tspan></text>
<text class="lb" transform="translate(2197.22,1335.07) rotate(-90) scale(0.8477,1.0000)">DLQI</text>
<text class="xl" y="1660.92" xml:space="preserve"><tspan class="xs" x="2362.23" textLength="94.51" lengthAdjust="spacingAndGlyphs">Start</tspan></text>
<text class="xl" y="1660.92" xml:space="preserve"><tspan class="xd" x="2542.21" textLength="48.53" lengthAdjust="spacingAndGlyphs">+1</tspan><tspan x="2590.6" textLength="144.29" lengthAdjust="spacingAndGlyphs"> month</tspan></text>
<text class="xl" y="1660.92" xml:space="preserve"><tspan class="xd" x="2750.82" textLength="53.03" lengthAdjust="spacingAndGlyphs">+4</tspan><tspan x="2802.94" textLength="165.41" lengthAdjust="spacingAndGlyphs"> months</tspan></text>
<text class="xl" y="1660.92" xml:space="preserve"><tspan class="xd" x="3002.79" textLength="53.76" lengthAdjust="spacingAndGlyphs">+7</tspan><tspan x="3053.77" textLength="165.67" lengthAdjust="spacingAndGlyphs"> months</tspan></text>
<text class="tk" transform="translate(2225.68,986.84) scale(1.0946,1.1600)">30</text>
<text class="tk" transform="translate(2227.24,1079.81) scale(1.0266,1.1600)">25</text>
<text class="tk" transform="translate(2224.24,1172.78) scale(1.1227,1.1600)">20</text>
<text class="tk" transform="translate(2232.4,1265.46) scale(0.9255,1.1600)">15</text>
<text class="tk" transform="translate(2229.26,1358.72) scale(1.0243,1.1600)">10</text>
<text class="tk" transform="translate(2256.58,1451.4) scale(0.9493,1.1600)">5</text>
<text class="tk" transform="translate(2251.87,1544.66) scale(1.2095,1.1600)">0</text>
</g>
</svg>
</body>
</html>
